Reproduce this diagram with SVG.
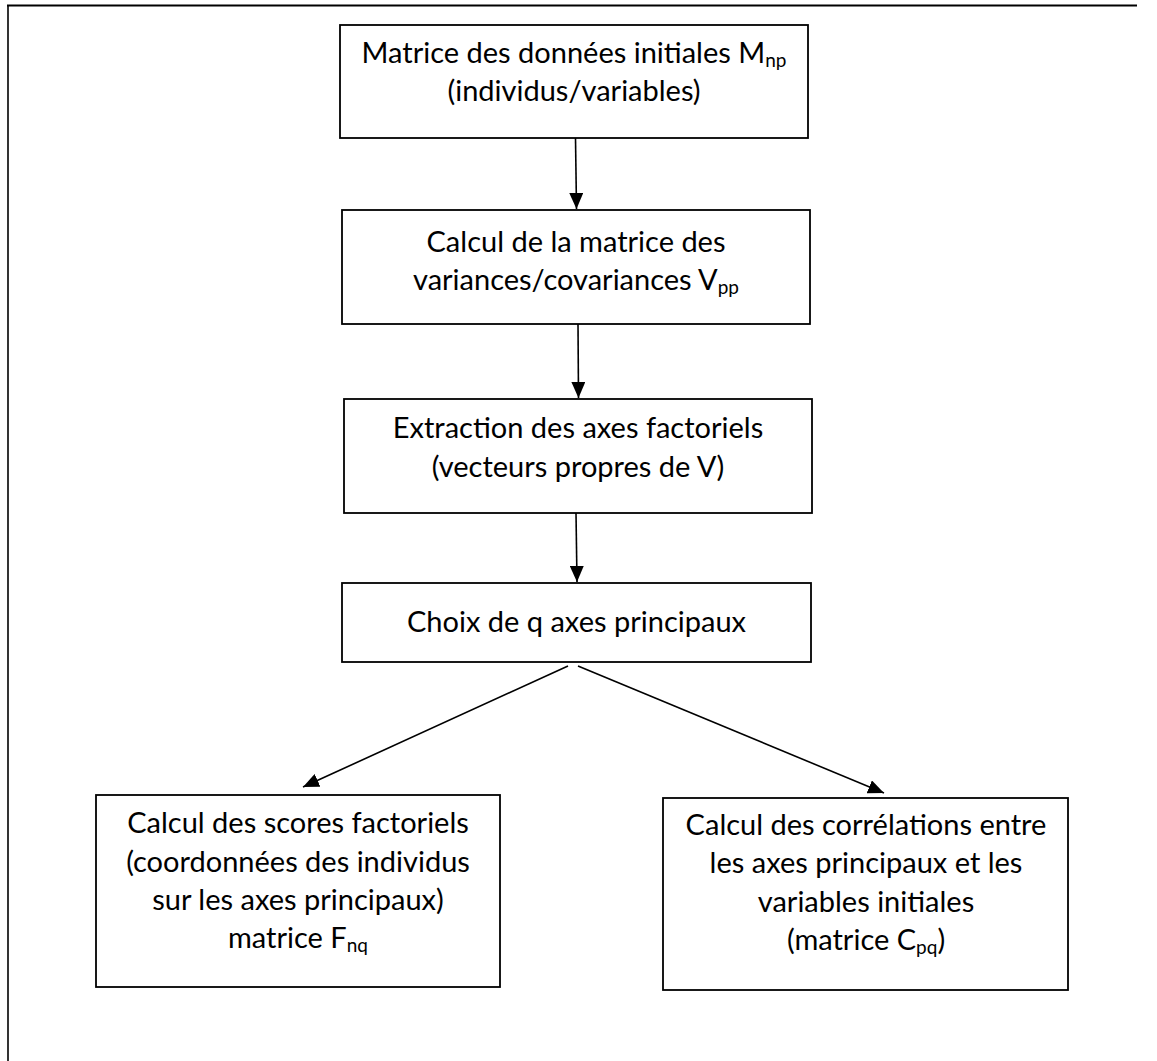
<svg xmlns="http://www.w3.org/2000/svg" width="1157" height="1061" viewBox="0 0 1157 1061">
<defs>
<style>
.box{fill:#fff;stroke:#000;stroke-width:1.8}
.frame{fill:none;stroke:#000}
.t{font-family:Lato,"Open Sans","Liberation Sans",sans-serif;font-size:29px;fill:#000;text-anchor:middle}
.sub{font-size:19px}
.conn{stroke:#000;stroke-width:1.6;fill:none;marker-end:url(#ah)}
</style>
<marker id="ah" viewBox="0 0 16 14" refX="16" refY="7" markerWidth="16" markerHeight="14" markerUnits="userSpaceOnUse" orient="auto">
<path d="M0,0 L16,7 L0,14 Z" fill="#000"/>
</marker>
</defs>
<rect width="1157" height="1061" fill="#fff"/>
<g id="frame">
<line class="frame" x1="7" y1="5.5" x2="1137" y2="5.5" stroke-width="2"/>
<line class="frame" x1="8" y1="5" x2="8" y2="1061" stroke-width="1.6"/>
</g>
<g id="n1">
<rect class="box" x="340" y="25" width="468" height="113"/>
<text class="t" x="574" y="63">Matrice des données initiales M<tspan class="sub" dy="4">np</tspan></text>
<text class="t" x="574" y="101">(individus/variables)</text>
</g>
<g id="n2">
<rect class="box" x="342" y="210" width="468" height="114"/>
<text class="t" x="576" y="252">Calcul de la matrice des</text>
<text class="t" x="576" y="290">variances/covariances V<tspan class="sub" dy="4">pp</tspan></text>
</g>
<g id="n3">
<rect class="box" x="344" y="399" width="468" height="114"/>
<text class="t" x="578" y="438">Extraction des axes factoriels</text>
<text class="t" x="578" y="477">(vecteurs propres de V)</text>
</g>
<g id="n4">
<rect class="box" x="342" y="583" width="469" height="79"/>
<text class="t" x="576.5" y="632">Choix de q axes principaux</text>
</g>
<g id="n5">
<rect class="box" x="96" y="795" width="404" height="192"/>
<text class="t" x="298" y="833">Calcul des scores factoriels</text>
<text class="t" x="298" y="872">(coordonnées des individus</text>
<text class="t" x="298" y="910">sur les axes principaux)</text>
<text class="t" x="298" y="948">matrice F<tspan class="sub" dy="4">nq</tspan></text>
</g>
<g id="n6">
<rect class="box" x="663" y="798" width="405" height="192"/>
<text class="t" x="866" y="835">Calcul des corrélations entre</text>
<text class="t" x="866" y="873">les axes principaux et les</text>
<text class="t" x="866" y="912">variables initiales</text>
<text class="t" x="866" y="950">(matrice C<tspan class="sub" dy="4">pq</tspan><tspan dy="-4">)</tspan></text>
</g>
<g id="connectors">
<line class="conn" x1="575.5" y1="138" x2="576.5" y2="209"/>
<line class="conn" x1="578" y1="324" x2="578.5" y2="398"/>
<line class="conn" x1="576" y1="513" x2="577" y2="582"/>
<line class="conn" x1="568" y1="666" x2="303" y2="787"/>
<line class="conn" x1="578" y1="666" x2="884" y2="793"/>
</g>
</svg>
